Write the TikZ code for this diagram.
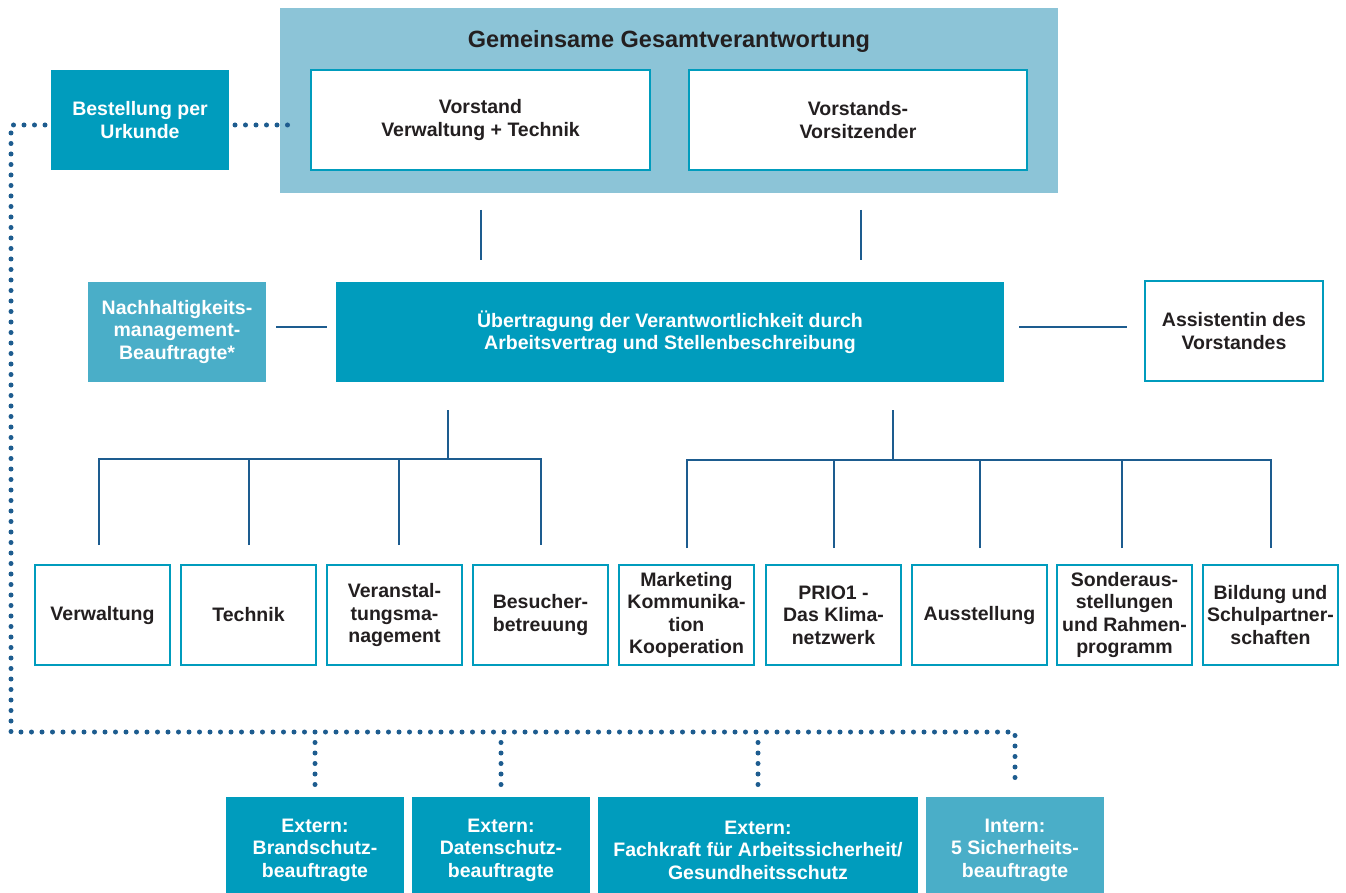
\documentclass[tikz,border=0pt]{standalone}
\usepackage{fontspec}
\setmainfont{Liberation Sans}
\usetikzlibrary{calc}
\definecolor{tealA}{HTML}{009CBD}
\definecolor{bgblue}{HTML}{8CC4D7}
\definecolor{tealB}{HTML}{4AAEC8}
\definecolor{linec}{HTML}{1D5C8F}
\definecolor{txt}{HTML}{231F20}
\begin{document}
\begin{tikzpicture}[x=1pt,y=-1pt,
  every node/.style={font=\fontsize{19.5}{22.5}\selectfont\bfseries, align=center, inner sep=0pt, outer sep=0pt},
  wbox/.style={draw=tealA, line width=2.5pt, fill=white, text=txt, minimum width=#1, minimum height=100pt, anchor=north west},
  fbox/.style={fill=tealA, text=white, minimum width=#1, minimum height=100pt, anchor=north west},
  lbox/.style={fill=tealB, text=white, minimum width=#1, minimum height=100pt, anchor=north west},
  conn/.style={draw=linec, line width=2pt},
  dotline/.style={draw=linec, line width=5pt, line cap=round, dash pattern=on 0pt off 10.5pt}
]
\useasboundingbox (0,0) rectangle (1346,893);

% top group
\node[fill=bgblue, minimum width=778pt, minimum height=185pt, anchor=north west] (big) at (280,8) {};
\node[anchor=base, text=txt, font=\fontsize{23.5}{27}\selectfont\bfseries] (title) at (669,48) {Gemeinsame Gesamtverantwortung};
\node[wbox=339pt] (vor) at (311,70) {Vorstand\\Verwaltung + Technik};
\node[wbox=338pt] (vors) at (689,70) {Vorstands-\\Vorsitzender};
\node[fbox=178pt] (best) at (51,70) {Bestellung per\\Urkunde};

% middle row
\node[lbox=178pt] (nach) at (88,282) {Nachhaltigkeits-\\management-\\Beauftragte*};
\node[fbox=668pt] (uebe) at (336,282) {Übertragung der Verantwortlichkeit durch\\Arbeitsvertrag und Stellenbeschreibung};
\node[wbox=178pt] (assi) at (1145,281) {Assistentin des\\Vorstandes};

% department row
\node[wbox=135pt] (b1) at (35,565) {Verwaltung};
\node[wbox=135pt] (b2) at (181,565) {Technik};
\node[wbox=135pt] (b3) at (327,565) {Veranstal-\\tungsma-\\nagement};
\node[wbox=135pt] (b4) at (473,565) {Besucher-\\betreuung};
\node[wbox=135pt] (b5) at (619,565) {Marketing\\Kommunika-\\tion\\Kooperation};
\node[wbox=135pt] (b6) at (766,565) {PRIO1 -\\Das Klima-\\netzwerk};
\node[wbox=135pt] (b7) at (912,565) {Ausstellung};
\node[wbox=135pt] (b8) at (1057,565) {Sonderaus-\\stellungen\\und Rahmen-\\programm};
\node[wbox=135pt] (b9) at (1203,565) {Bildung und\\Schulpartner-\\schaften};

% external row (extends below the page edge, as in the reference)
\node[fbox=178pt, minimum height=106pt] (e1) at (226,797) {Extern:\\Brandschutz-\\beauftragte};
\node[fbox=178pt, minimum height=106pt] (e2) at (412,797) {Extern:\\Datenschutz-\\beauftragte};
\node[fbox=320pt, minimum height=106pt] (e3) at (598,797) {Extern:\\Fachkraft für Arbeitssicherheit/\\Gesundheitsschutz};
\node[lbox=178pt, minimum height=106pt] (e4) at (926,797) {Intern:\\5 Sicherheits-\\beauftragte};

% solid connectors top -> middle
\draw[conn] ($(vor.south |- big.south)+(0,17)$) -- ($(vor.south |- uebe.north)+(0,-22)$);
\draw[conn] ($(vors.south |- big.south)+(3,17)$) -- ($(vors.south |- uebe.north)+(3,-22)$);
\draw[conn] ($(nach.east)+(10,-5)$) -- ($(uebe.west)+(-9,-5)$);
\draw[conn] ($(uebe.east)+(15,-5)$) -- ($(assi.west)+(-18,-4)$);

% left tree
\coordinate (lh) at (448,459);
\draw[conn] (lh) -- ++(0,-49);
\draw[conn] ($(b1.north)+(-4,-20)$) |- (lh -| b4.north) -- ($(b4.north)+(0,-20)$);
\draw[conn] ($(b2.north)+(0,-20)$) -- (lh -| b2.north);
\draw[conn] ($(b3.north)+(4,-20)$) -- ($(lh -| b3.north)+(4,0)$);

% right tree
\coordinate (rh) at (893,460);
\draw[conn] (rh) -- ++(0,-50);
\draw[conn] ($(b5.north)+(0,-17)$) |- (rh -| b9.north) -- ($(b9.north)+(0,-17)$);
\draw[conn] ($(b6.north)+(0,-17)$) -- (rh -| b6.north);
\draw[conn] ($(b7.north)+(0,-17)$) -- (rh -| b7.north);
\draw[conn] ($(b8.north)+(-3,-17)$) -- ($(rh -| b8.north)+(-3,0)$);

% dotted connectors
\coordinate (dl) at (11,732);
\draw[dotline] ($(best.east)+(6,5)$) -- ($(big.west |- best.east)+(12,5)$);
\draw[dotline] ($(best.west)+(-6,5)$) -| (dl) -- (e4.north |- dl) -- ($(e4.north)+(0,-12)$);
\draw[dotline] ($(e1.north |- dl)+(0,10.5)$) -- ($(e1.north)+(0,-12)$);
\draw[dotline] ($(e2.north |- dl)+(0,10.5)$) -- ($(e2.north)+(0,-12)$);
\draw[dotline] ($(e3.north |- dl)+(0,10.5)$) -- ($(e3.north)+(0,-12)$);
\end{tikzpicture}
\end{document}
